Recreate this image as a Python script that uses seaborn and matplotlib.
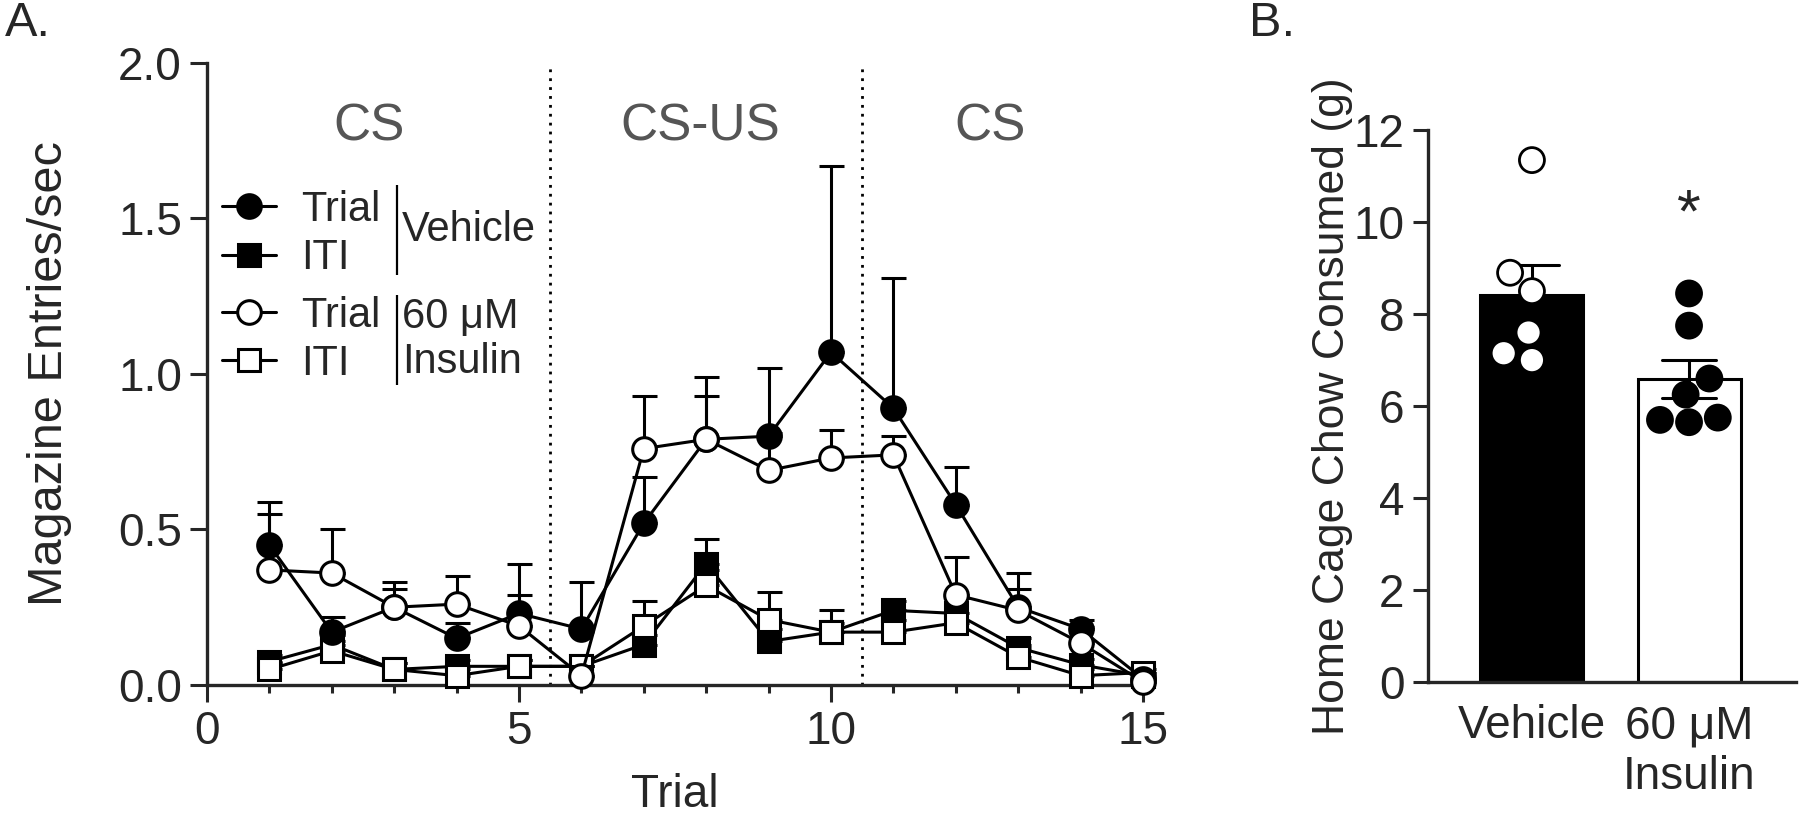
import matplotlib
matplotlib.use("Agg")
import matplotlib.pyplot as plt
from matplotlib.ticker import FormatStrFormatter
import numpy as np
import pandas as pd
import seaborn as sns

# ---- panel A: magazine entries per trial ----
trials = list(range(1, 16))
veh_trial = [0.45, 0.17, 0.25, 0.15, 0.23, 0.18, 0.52, 0.79, 0.80, 1.07, 0.89, 0.58, 0.25, 0.18, 0.02]
veh_trial_sem = [0.14, 0.05, 0.06, 0.05, 0.16, 0.15, 0.15, 0.20, 0.22, 0.60, 0.42, 0.12, 0.11, 0.03, 0.01]
veh_iti = [0.075, 0.13, 0.05, 0.06, 0.06, 0.06, 0.13, 0.39, 0.14, 0.17, 0.24, 0.23, 0.12, 0.065, 0.03]
veh_iti_sem = [0.02, 0.03, 0.02, 0.02, 0.02, 0.02, 0.03, 0.08, 0.04, 0.03, 0.03, 0.05, 0.03, 0.02, 0.01]
ins_trial = [0.37, 0.36, 0.25, 0.26, 0.19, 0.03, 0.76, 0.79, 0.69, 0.73, 0.74, 0.29, 0.24, 0.135, 0.01]
ins_trial_sem = [0.18, 0.14, 0.08, 0.09, 0.10, 0.03, 0.17, 0.14, 0.12, 0.09, 0.06, 0.12, 0.07, 0.05, 0.01]
ins_iti = [0.05, 0.11, 0.05, 0.03, 0.06, 0.06, 0.19, 0.32, 0.21, 0.17, 0.17, 0.20, 0.09, 0.03, 0.04]
ins_iti_sem = [0.02, 0.03, 0.02, 0.02, 0.02, 0.02, 0.08, 0.05, 0.09, 0.07, 0.04, 0.08, 0.04, 0.02, 0.01]

phase_labels = ["CS", "CS-US", "CS"]
phase_centers = [2.6, 7.9, 12.55]
phase_bounds = [5.5, 10.5]

# ---- panel B: home cage chow ----
groups = ["Vehicle", "60 \u03bcM\nInsulin"]
chow_vehicle = [11.35, 8.9, 8.5, 7.6, 7.0, 7.15]
chow_insulin = [8.45, 7.75, 6.6, 6.25, 5.7, 5.75, 5.65]

sns.set_theme(style="ticks")
plt.rcParams["font.family"] = ["Liberation Sans", "DejaVu Sans"]

fig = plt.figure(figsize=(18, 8.31), dpi=100)
ax1 = fig.add_axes([0.115, 0.1757, 0.52, 0.7485])
ax2 = fig.add_axes([0.7933, 0.1793, 0.2044, 0.664])

# draw order: ITI under trial, insulin over vehicle
series = [
    (veh_iti, veh_iti_sem, "s", "black", 3),
    (ins_iti, ins_iti_sem, "s", "white", 4),
    (veh_trial, veh_trial_sem, "o", "black", 5),
    (ins_trial, ins_trial_sem, "o", "white", 6),
]
handles = []
for vals, sem, mk, face, z in series:
    sns.lineplot(x=trials, y=vals, ax=ax1, color="black", linewidth=2.2,
                 marker=mk, markersize=17 if mk == "o" else 16,
                 markerfacecolor=face, markeredgecolor="black",
                 markeredgewidth=2.2, errorbar=None, zorder=z, clip_on=False)
    handles.append(ax1.lines[-1])
    ax1.errorbar(trials, vals, yerr=[np.zeros(len(sem)), sem], fmt="none",
                 ecolor="black", elinewidth=2.2, capsize=9, capthick=2.2,
                 zorder=z - 0.5, clip_on=False)

for b in phase_bounds:
    ax1.axvline(b, color="black", linewidth=2, linestyle=(0, (1, 2.2)), zorder=1)
for lab, cx in zip(phase_labels, phase_centers):
    ax1.text(cx, 1.752, lab, ha="center", va="baseline", fontsize=37, color="#555555")

leg_kw = dict(loc="upper left", frameon=False, fontsize=30, handlelength=1.3,
              handletextpad=0.6, labelspacing=0.2, borderpad=0, borderaxespad=0)
leg1 = ax1.legend([handles[2], handles[0]], ["Trial", "ITI"],
                  bbox_to_anchor=(0.016, 0.796), **leg_kw)
ax1.add_artist(leg1)
ax1.legend([handles[3], handles[1]], ["Trial", "ITI"],
           bbox_to_anchor=(0.016, 0.626), **leg_kw)
ax1.vlines(3.04, 1.318, 1.608, color="black", linewidth=1.6)
ax1.vlines(3.04, 0.965, 1.254, color="black", linewidth=1.6)
ax1.text(3.13, 1.463, "Vehicle", va="center", fontsize=30)
ax1.text(3.13, 1.183, "60 \u03bcM", va="center", fontsize=30)
ax1.text(3.13, 1.039, "Insulin", va="center", fontsize=30)

ax1.set_xlim(0, 15)
ax1.set_ylim(0, 2.0)
ax1.set_xticks([0, 5, 10, 15])
ax1.set_xticks(trials, minor=True)
ax1.set_yticks(np.arange(0, 2.01, 0.5))
ax1.yaxis.set_major_formatter(FormatStrFormatter("%.1f"))
ax1.tick_params(axis="both", which="major", labelsize=33, width=2.2, length=12, pad=6)
ax1.tick_params(axis="x", which="minor", width=2.2, length=6)
ax1.set_xlabel("Trial", fontsize=33)
ax1.set_ylabel("Magazine Entries/sec", fontsize=35)
ax1.xaxis.set_label_coords(0.5, -0.1415)
ax1.yaxis.set_label_coords(-0.144, 0.5)
sns.despine(ax=ax1)
for s in ["left", "bottom"]:
    ax1.spines[s].set_linewidth(2.4)

# ---- panel B ----
chow = pd.DataFrame({
    "group": [groups[0]] * len(chow_vehicle) + [groups[1]] * len(chow_insulin),
    "chow": chow_vehicle + chow_insulin,
})
sns.barplot(data=chow, x="group", y="chow", hue="group", order=groups,
            palette={groups[0]: "black", groups[1]: "white"}, legend=False,
            errorbar="se", capsize=0.34, width=0.656, edgecolor="black",
            linewidth=2.2, err_kws={"color": "black", "linewidth": 2.2}, ax=ax2)
sns.swarmplot(data=chow, x="group", y="chow", hue="group", order=groups,
              palette={groups[0]: "white", groups[1]: "black"}, legend=False,
              size=18, edgecolor="black", linewidth=2, ax=ax2, zorder=5)
ax2.text(1, 9.8, "*", ha="center", va="baseline", fontsize=44)

ax2.set_xlim(-0.662, 1.68)
ax2.set_ylim(0, 12)
ax2.set_yticks(range(0, 13, 2))
ax2.tick_params(axis="y", labelsize=33, width=2.2, length=11, pad=6)
ax2.tick_params(axis="x", labelsize=33, length=0, pad=16)
ax2.set_xlabel("")
ax2.set_ylabel("Home Cage Chow Consumed (g)", fontsize=32)
ax2.yaxis.set_label_coords(-0.204, 0.5)
sns.despine(ax=ax2)
for s in ["left", "bottom"]:
    ax2.spines[s].set_linewidth(2.4)

fig.text(0.003, 0.999, "A.", ha="left", va="top", fontsize=35)
fig.text(0.694, 0.999, "B.", ha="left", va="top", fontsize=35)

fig.savefig("out.png", dpi=100)
